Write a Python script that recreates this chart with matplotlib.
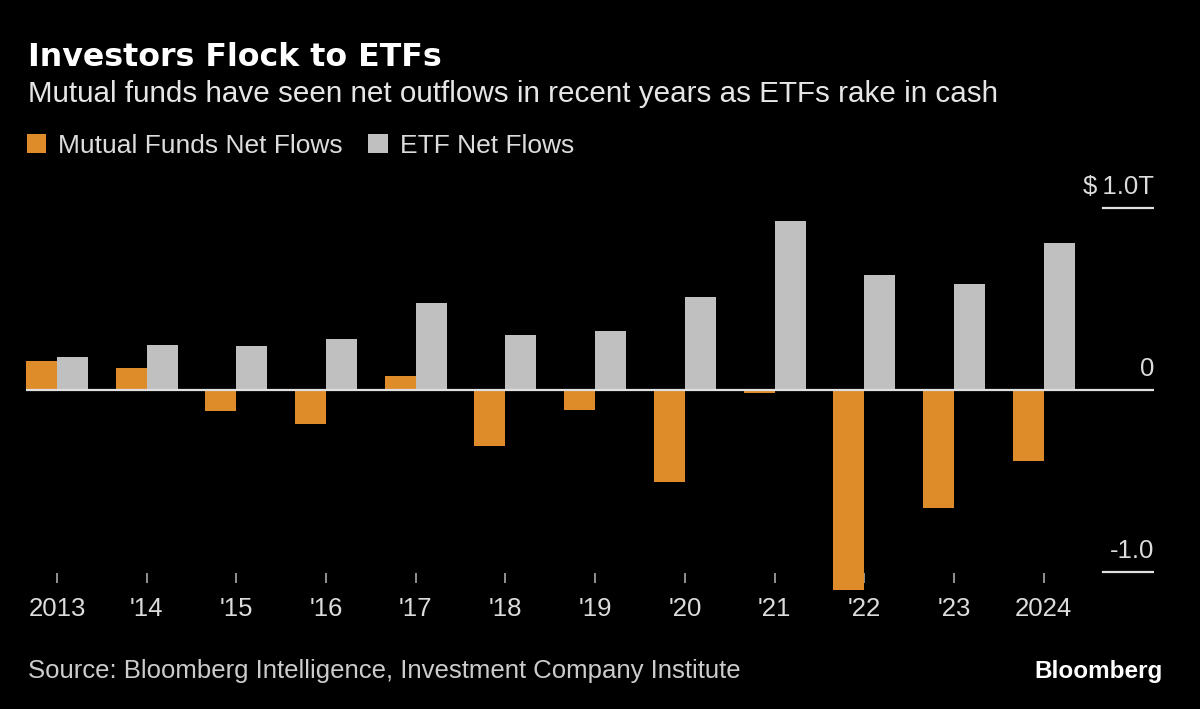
import matplotlib
matplotlib.use("Agg")
import matplotlib.pyplot as plt
import matplotlib.transforms as mtransforms
import numpy as np

# net flows, $ trillions
years = ["2013", "'14", "'15", "'16", "'17", "'18", "'19", "'20", "'21", "'22", "'23", "2024"]
mutual_funds = [0.16, 0.12, -0.115, -0.185, 0.075, -0.31, -0.11, -0.505, -0.015, -1.10, -0.65, -0.39]
etf = [0.18, 0.247, 0.24, 0.28, 0.478, 0.30, 0.324, 0.51, 0.927, 0.634, 0.58, 0.81]
ytick_vals = [1.0, 0.0, -1.0]
ytick_labels = ["$\u20091.0T", "0", "-1.0"]

ORANGE = "#dd8c29"
GREY = "#c0c0c0"
BG = "#000000"
TXT = "#dcdcdc"
BODY = ["Liberation Sans", "DejaVu Sans"]

W, H = 1200, 709
fig = plt.figure(figsize=(W / 100, H / 100), dpi=100, facecolor=BG)

# axes: x 26..1154 px, y 171.6..583 px (from top)
left, right, top, bottom = 26, 1154, 171.6, 583
ax = fig.add_axes([left / W, 1 - bottom / H, (right - left) / W, (bottom - top) / H])
ax.set_facecolor(BG)

x = np.arange(len(years))
bw = 0.3456
ax.bar(x - bw / 2, mutual_funds, bw, color=ORANGE, clip_on=False, zorder=2,
       label="Mutual Funds Net Flows")
ax.bar(x + bw / 2, etf, bw, color=GREY, clip_on=False, zorder=2,
       label="ETF Net Flows")

ax.set_xlim(-bw, 12.23)
ax.set_ylim(-1.0604, 1.2)

for s in ax.spines.values():
    s.set_visible(False)

ax.axhline(0, color="#e0e0e0", lw=1.6, zorder=3)
for v in (1.0, -1.0):
    ax.axhline(v, xmin=0.955, xmax=1.0, color="#e0e0e0", lw=1.6, zorder=3)

trans = mtransforms.blended_transform_factory(ax.transAxes, ax.transData)
for v, lab in zip(ytick_vals, ytick_labels):
    ax.text(1.0, v + 0.05, lab, transform=trans, ha="right", va="bottom",
            color=TXT, fontsize=18.5, family=BODY)

ax.set_yticks([])
ax.set_xticks(x)
ax.set_xticklabels(years, family=BODY, fontsize=18.5, color=TXT)
ax.tick_params(axis="x", direction="in", length=7.5, width=1.2, color="#aaaaaa",
               pad=10)

# header
fig.text(28 / W, 1 - 66 / H, "Investors Flock to ETFs", color="white",
         fontsize=22.8, fontweight="bold", family=["DejaVu Sans"], va="baseline")
fig.text(28 / W, 1 - 102 / H,
         "Mutual funds have seen net outflows in recent years as ETFs rake in cash",
         color="#e6e6e6", fontsize=21.3, family=BODY, va="baseline")

handles, labels = ax.get_legend_handles_labels()
leg = fig.legend(handles, labels, loc="center left",
                 bbox_to_anchor=(16 / W, 1 - 146 / H), ncol=2, frameon=False,
                 handlelength=0.75, handleheight=0.75, handletextpad=0.45,
                 columnspacing=0.95, borderaxespad=0,
                 prop={"family": BODY, "size": 19})
for t in leg.get_texts():
    t.set_color(TXT)

fig.text(28 / W, 1 - 678 / H,
         "Source: Bloomberg Intelligence, Investment Company Institute",
         color="#cccccc", fontsize=18.5, family=BODY, va="baseline")
fig.text(1163 / W, 1 - 678 / H, "Bloomberg", color="white", fontsize=17.5,
         fontweight="bold", family=BODY, ha="right", va="baseline")

fig.savefig("out.png", dpi=100, facecolor=BG)
